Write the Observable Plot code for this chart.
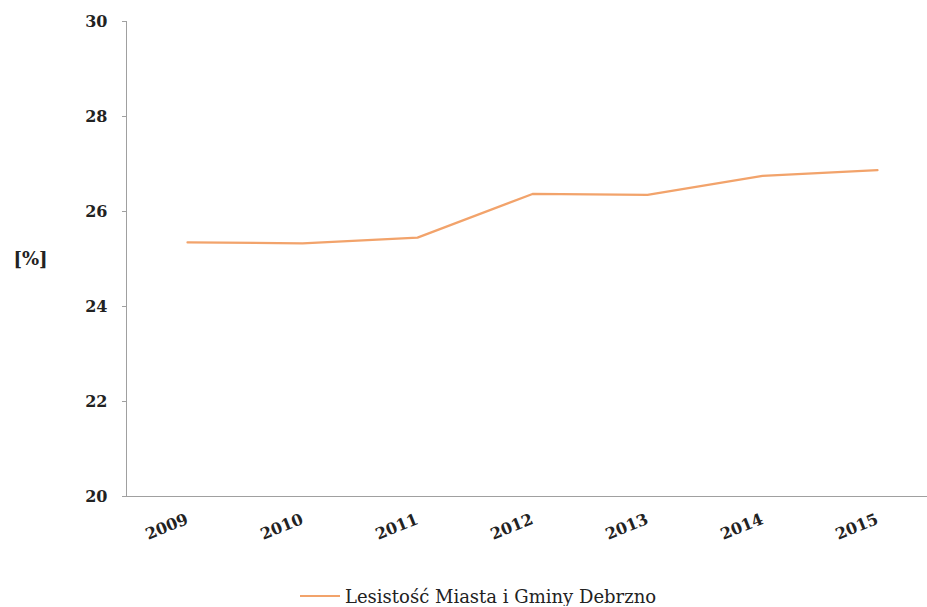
<!DOCTYPE html>
<html>
<head>
<meta charset="utf-8">
<script src="https://cdn.jsdelivr.net/npm/d3@7"></script>
<script src="https://cdn.jsdelivr.net/npm/@observablehq/plot@0.6"></script>
<style>
  html, body { margin: 0; padding: 0; background: #fff; }
  #legend { height: 20px; display: flex; align-items: center; padding-left: 300px;
            font-family: "DejaVu Serif", "Liberation Serif", serif; font-size: 18px; color: #222; }
  #legend .sw { display: inline-block; width: 40px; height: 2px; background: #f2a36b; margin-right: 5px; }
</style>
</head>
<body>
<div id="chart"></div>
<script>
const years = ["2009", "2010", "2011", "2012", "2013", "2014", "2015"];
const values = [25.35, 25.33, 25.45, 26.37, 26.35, 26.75, 26.87];
const yTicks = [20, 22, 24, 26, 28, 30];
const seriesName = "Lesistość Miasta i Gminy Debrzno";
const yLabel = "[%]";

const data = years.map((y, i) => ({year: y, value: values[i]}));

const chart = Plot.plot({
  width: 927,
  height: 586,
  marginLeft: 126,
  marginRight: 0,
  marginTop: 21,
  marginBottom: 90,
  style: {fontFamily: "'DejaVu Serif', 'Liberation Serif', serif", fontSize: "16px", color: "#222", background: "#fff"},
  x: {type: "point", domain: years, range: [185, 878], padding: 0},
  y: {domain: [20, 30]},
  marks: [
    Plot.frame({anchor: "left", stroke: "#a0a0a0"}),
    Plot.frame({anchor: "bottom", stroke: "#a0a0a0"}),
    Plot.axisY({ticks: yTicks, tickSize: 4, tickPadding: 15, label: null, stroke: "#a0a0a0", fontWeight: "bold", tickFormat: d => String(d)}),
    Plot.axisX({tickSize: 0, tickRotate: -22, tickPadding: 22, label: null, fontWeight: "bold"}),
    Plot.lineY(data, {x: "year", y: "value", stroke: "#f2a36b", strokeWidth: 2.2}),
    Plot.text([yLabel], {text: d => d, frameAnchor: "left", dx: -113, textAnchor: "start", fontWeight: "bold", fontSize: 18})
  ]
});
document.getElementById("chart").appendChild(chart);

const legend = document.createElement("div");
legend.id = "legend";
const sw = document.createElement("span");
sw.className = "sw";
legend.appendChild(sw);
legend.appendChild(document.createTextNode(seriesName));
document.body.appendChild(legend);
</script>
</body>
</html>
